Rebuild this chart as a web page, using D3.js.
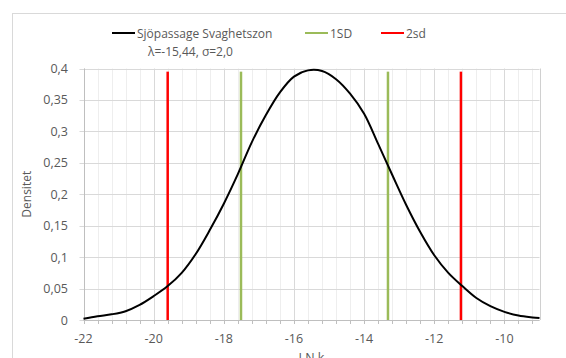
<!DOCTYPE html>
<html>
<head>
<meta charset="utf-8">
<script src="https://cdn.jsdelivr.net/npm/d3@7"></script>
<style>
  body { margin: 0; background: #fff; }
  text { font-family: "Open Sans", "Liberation Sans", sans-serif; fill: #595959; }
</style>
</head>
<body>
<div id="chart"></div>
<script>
// values
var lnK = [-22, -21.6, -21.2, -20.8, -20.4, -20, -19.6, -19.2, -18.8, -18.4, -18, -17.6, -17.2,
           -16.8, -16.4, -16, -15.6, -15.2, -14.8, -14.4, -14, -13.6, -13.2, -12.8, -12.4,
           -12, -11.6, -11.2, -10.8, -10.4, -10, -9.6, -9.2, -9];
var densitet = [0.002, 0.006, 0.009, 0.014, 0.024, 0.038, 0.054, 0.075, 0.105, 0.143, 0.185, 0.232, 0.283,
                0.326, 0.362, 0.387, 0.397, 0.396, 0.383, 0.36, 0.328, 0.28, 0.231, 0.183, 0.14,
                0.103, 0.075, 0.054, 0.035, 0.022, 0.013, 0.007, 0.004, 0.003];
var sd1 = [-17.51, -13.32];
var sd2 = [-19.60, -11.24];
var lineTop = 0.395;
var xTicks = [-22, -20, -18, -16, -14, -12, -10];
var yTicks = [0, 0.05, 0.1, 0.15, 0.2, 0.25, 0.3, 0.35, 0.4];
var legendNames = ["Sjöpassage Svaghetszon", "1SD", "2sd"];
var legendColors = ["#000000", "#9bbb59", "#ff0000"];
var subTitle = "λ=-15,44, σ=2,0";

var width = 566, height = 358;
var margin = { top: 68.5, left: 83.5, right: 26.5, bottom: 37.5 };

var svg = d3.select("#chart").append("svg")
    .attr("width", width)
    .attr("height", height);

svg.append("rect").attr("width", width).attr("height", height).attr("fill", "#fff");

// chart area border
svg.append("rect")
    .attr("x", 12.5).attr("y", 13.5)
    .attr("width", 600).attr("height", 400)
    .attr("fill", "none").attr("stroke", "#d9d9d9");

var x = d3.scaleLinear().domain([-22, -9]).range([margin.left, width - margin.right]);
var y = d3.scaleLinear().domain([0, 0.4]).range([height - margin.bottom - 0.5, margin.top]);

var fmt = function(d) { return String(d).replace(".", ","); };

// minor vertical gridlines every 0.4
var minor = d3.range(0, 33).map(function(i) { return -22 + i * 0.4; });
svg.append("g").selectAll("line")
    .data(minor)
    .enter().append("line")
    .attr("x1", function(d) { return Math.round(x(d)) + 0.5; })
    .attr("x2", function(d) { return Math.round(x(d)) + 0.5; })
    .attr("y1", y(0)).attr("y2", y(0.4))
    .attr("stroke", function(d) { return Math.abs(d / 2 - Math.round(d / 2)) < 1e-6 ? "#d9d9d9" : "#eeeeee"; });

// horizontal gridlines
svg.append("g").selectAll("line")
    .data(yTicks)
    .enter().append("line")
    .attr("x1", x(-22) - 4).attr("x2", x(-9))
    .attr("y1", function(d) { return Math.round(y(d)) + 0.5; })
    .attr("y2", function(d) { return Math.round(y(d)) + 0.5; })
    .attr("stroke", "#d9d9d9");

// axes lines and ticks
svg.append("line")
    .attr("x1", Math.round(x(-22)) + 0.5).attr("x2", Math.round(x(-22)) + 0.5)
    .attr("y1", y(0)).attr("y2", y(0.4))
    .attr("stroke", "#bfbfbf");
svg.append("line")
    .attr("x1", Math.round(x(-9)) + 0.5).attr("x2", Math.round(x(-9)) + 0.5)
    .attr("y1", y(0)).attr("y2", y(0.4))
    .attr("stroke", "#d0d0d0");
svg.append("line")
    .attr("x1", x(-22)).attr("x2", x(-9))
    .attr("y1", Math.round(y(0)) + 0.5).attr("y2", Math.round(y(0)) + 0.5)
    .attr("stroke", "#bfbfbf");
svg.append("g").selectAll("line")
    .data(minor)
    .enter().append("line")
    .attr("x1", function(d) { return Math.round(x(d)) + 0.5; })
    .attr("x2", function(d) { return Math.round(x(d)) + 0.5; })
    .attr("y1", y(0)).attr("y2", y(0) + 4)
    .attr("stroke", "#bfbfbf");

// tick labels
svg.append("g").selectAll("text")
    .data(xTicks)
    .enter().append("text")
    .attr("x", function(d) { return x(d); })
    .attr("y", y(0) + 23)
    .attr("text-anchor", "middle")
    .style("font-size", "12.5px")
    .text(fmt);

svg.append("g").selectAll("text")
    .data(yTicks)
    .enter().append("text")
    .attr("x", 68)
    .attr("y", function(d) { return y(d) + 4.5; })
    .attr("text-anchor", "end")
    .style("font-size", "12.5px")
    .text(fmt);

// axis titles (x title is clipped by the bottom edge, as in the reference)
svg.append("text")
    .attr("transform", "translate(31," + (y(0.2)) + ") rotate(-90)")
    .attr("text-anchor", "middle")
    .style("font-size", "12px")
    .text("Densitet");
svg.append("text")
    .attr("x", (x(-22) + x(-9)) / 2)
    .attr("y", 362)
    .attr("text-anchor", "middle")
    .style("font-size", "12.5px")
    .text("LN k");

// SD lines
svg.append("g").selectAll("line")
    .data(sd1)
    .enter().append("line")
    .attr("x1", function(d) { return x(d); }).attr("x2", function(d) { return x(d); })
    .attr("y1", y(0)).attr("y2", y(lineTop))
    .attr("stroke", legendColors[1]).attr("stroke-width", 2.5);
svg.append("g").selectAll("line")
    .data(sd2)
    .enter().append("line")
    .attr("x1", function(d) { return x(d); }).attr("x2", function(d) { return x(d); })
    .attr("y1", y(0)).attr("y2", y(lineTop))
    .attr("stroke", legendColors[2]).attr("stroke-width", 2.5);

// density curve
var line = d3.line()
    .x(function(d, i) { return x(lnK[i]); })
    .y(function(d) { return y(d); })
    .curve(d3.curveCatmullRom);
svg.append("path")
    .datum(densitet)
    .attr("d", line)
    .attr("fill", "none")
    .attr("stroke", "#000")
    .attr("stroke-width", 2);

// legend
var legendX = [112, 305, 381];
var leg = svg.append("g").selectAll("g")
    .data(legendNames)
    .enter().append("g")
    .attr("transform", function(d, i) { return "translate(" + legendX[i] + ",33)"; });
leg.append("line")
    .attr("x1", 0).attr("x2", 23)
    .attr("stroke", function(d, i) { return legendColors[i]; })
    .attr("stroke-width", 2);
leg.append("text")
    .attr("x", 25).attr("y", 4.5)
    .style("font-size", "12px")
    .text(function(d) { return d; });

svg.append("text")
    .attr("x", 148).attr("y", 56)
    .style("font-size", "12px")
    .text(subTitle);
</script>
</body>
</html>
